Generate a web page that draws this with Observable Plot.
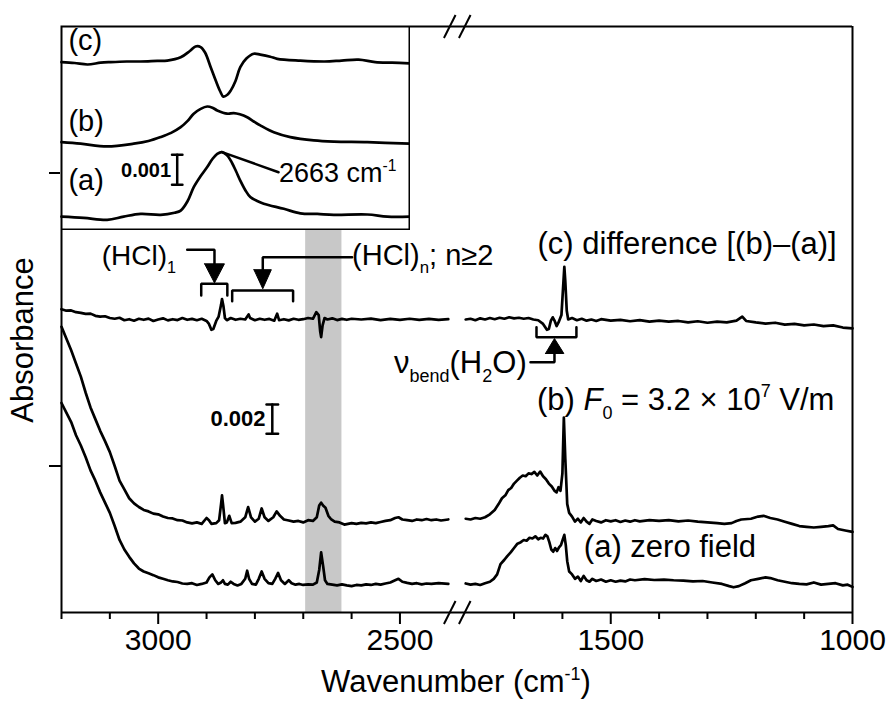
<!DOCTYPE html>
<html>
<head>
<meta charset="utf-8">
<script src="https://cdn.jsdelivr.net/npm/d3@7"></script>
<script src="https://cdn.jsdelivr.net/npm/@observablehq/plot@0.6"></script>
<style>
  body { margin: 0; background: #fff; }
  #wrap { position: relative; width: 889px; height: 705px; }
  #inset { position: absolute; left: 60px; top: 25px; }
</style>
</head>
<body>
<div id="wrap"><div id="main"></div><div id="inset"></div></div>
<script>
// ---------------- DATA (wavenumber cm^-1, absorbance in units of 0.001) ----------------
const majorTicks = [3000, 2500, 1500, 1000];
const minorTicks = [3200, 3100, 2900, 2800, 2700, 2600, 1700, 1600, 1400, 1300, 1200, 1100];
const yTicks = [10, 30];
const greyBand = [2695, 2620];

// (c) difference [(b)-(a)]
const diffLeft = [[3200,20.7],[3190,20.6],[3180,20.62],[3170,20.5],[3160,20.45],[3150,20.38],[3140,20.4],[3130,20.25],[3120,20.2],[3110,20.22],[3100,20.1],[3090,20.05],[3080,20.12],[3070,19.95],[3060,20.02],[3050,19.92],[3040,20.05],[3030,19.98],[3020,20.06],[3010,19.9],[3000,20.0],[2990,20.08],[2980,19.94],[2970,20.02],[2960,19.96],[2950,20.1],[2940,19.98],[2930,20.04],[2920,19.95],[2910,20.05],[2900,19.9],[2895,19.7],[2890,19.3],[2886,19.35],[2880,19.9],[2875,20.2],[2870,21.0],[2868,21.4],[2865,20.9],[2862,20.1],[2858,19.95],[2850,20.1],[2840,19.98],[2830,20.05],[2820,20.0],[2813,20.35],[2810,20.1],[2800,19.95],[2790,20.05],[2780,19.98],[2770,20.04],[2760,19.92],[2754,20.4],[2750,19.95],[2740,20.02],[2730,19.94],[2720,20.05],[2710,19.98],[2700,20.02],[2690,20.1],[2680,20.05],[2673,20.5],[2668,20.3],[2665,19.2],[2663,18.8],[2660,19.6],[2656,20.1],[2650,20.0],[2640,20.08],[2630,19.96],[2620,20.04],[2610,19.98],[2600,20.05],[2580,20.0],[2560,20.06],[2540,19.96],[2520,20.04],[2500,19.98],[2480,20.05],[2460,19.97],[2440,20.04],[2420,19.98],[2400,20.02]];
const diffRight = [[1800,20.0],[1790,20.05],[1780,19.95],[1770,20.08],[1760,20.0],[1750,20.1],[1740,20.02],[1730,20.12],[1720,20.05],[1710,20.15],[1700,20.08],[1690,20.12],[1680,20.05],[1670,20.1],[1660,20.0],[1650,19.95],[1640,19.7],[1632,19.3],[1628,19.35],[1624,19.9],[1620,20.15],[1616,19.9],[1612,19.55],[1608,19.8],[1602,20.3],[1598,22.5],[1596,23.6],[1594,22.6],[1591,20.6],[1588,20.0],[1580,20.1],[1570,19.95],[1560,20.05],[1550,19.92],[1540,20.0],[1530,19.9],[1520,20.02],[1500,19.92],[1480,19.98],[1460,19.88],[1440,19.96],[1420,19.85],[1400,19.92],[1380,19.86],[1360,19.9],[1340,19.8],[1320,19.88],[1300,19.78],[1280,19.86],[1260,19.8],[1240,19.92],[1228,20.2],[1220,19.9],[1200,19.8],[1180,19.72],[1160,19.78],[1140,19.65],[1120,19.7],[1100,19.6],[1080,19.66],[1060,19.55],[1040,19.6],[1020,19.45],[1000,19.4]];

// (b) F0 = 3.2e7 V/m
const fieldLeft = [[3200,19.5],[3190,18.7],[3180,17.9],[3170,17.0],[3160,16.1],[3150,15.0],[3140,14.0],[3130,13.2],[3120,12.4],[3110,11.7],[3100,10.95],[3090,10.0],[3080,9.0],[3070,8.4],[3060,7.8],[3050,7.45],[3040,7.2],[3030,7.0],[3020,6.9],[3010,6.75],[3000,6.7],[2990,6.55],[2980,6.45],[2970,6.42],[2960,6.3],[2950,6.28],[2940,6.15],[2930,6.08],[2920,6.15],[2910,6.05],[2900,6.45],[2895,6.3],[2890,6.05],[2880,6.1],[2874,6.3],[2870,7.4],[2868,8.0],[2866,7.4],[2862,6.1],[2858,6.15],[2853,6.6],[2848,6.1],[2840,6.12],[2830,6.2],[2820,6.5],[2814,7.2],[2808,6.5],[2800,6.2],[2792,6.4],[2786,7.1],[2780,6.5],[2772,6.25],[2762,6.5],[2755,6.9],[2748,6.6],[2740,6.35],[2730,6.28],[2720,6.2],[2710,6.25],[2700,6.15],[2690,6.3],[2680,6.25],[2672,6.5],[2667,7.3],[2663,7.5],[2659,7.3],[2654,7.15],[2648,6.6],[2642,6.35],[2635,6.2],[2625,6.15],[2615,6.0],[2600,6.1],[2590,6.05],[2580,6.12],[2570,6.08],[2560,6.15],[2550,6.1],[2540,6.18],[2530,6.25],[2520,6.3],[2510,6.45],[2503,6.5],[2495,6.35],[2485,6.3],[2475,6.25],[2465,6.35],[2455,6.3],[2445,6.38],[2435,6.3],[2425,6.35],[2415,6.28],[2400,6.35]];
const fieldRight = [[1800,6.4],[1790,6.35],[1780,6.45],[1770,6.4],[1760,6.5],[1750,6.7],[1740,7.0],[1732,7.4],[1725,7.8],[1718,8.0],[1712,8.35],[1706,8.5],[1700,8.8],[1694,9.0],[1688,9.2],[1682,9.35],[1676,9.3],[1670,9.5],[1664,9.45],[1658,9.6],[1652,9.35],[1646,9.62],[1640,9.3],[1634,9.1],[1628,8.8],[1622,8.6],[1616,8.3],[1612,8.2],[1608,8.55],[1604,8.3],[1600,9.5],[1597,13.3],[1594,10.5],[1590,7.4],[1586,6.8],[1580,6.55],[1574,6.2],[1568,6.4],[1562,6.15],[1556,6.45],[1550,6.2],[1544,6.05],[1538,6.35],[1530,6.25],[1520,6.15],[1510,6.3],[1500,6.22],[1490,6.3],[1480,6.18],[1470,6.28],[1460,6.2],[1450,6.3],[1440,6.22],[1420,6.3],[1400,6.25],[1380,6.3],[1360,6.22],[1340,6.28],[1320,6.2],[1300,6.15],[1280,6.1],[1265,6.05],[1250,6.1],[1240,6.25],[1230,6.35],[1210,6.4],[1195,6.55],[1184,6.6],[1170,6.45],[1155,6.35],[1140,6.2],[1125,6.05],[1110,5.9],[1095,5.85],[1080,5.8],[1065,5.85],[1050,5.9],[1040,5.95],[1030,5.7],[1015,5.6],[1000,5.5]];

// (a) zero field
const zeroLeft = [[3200,14.3],[3190,13.65],[3180,13.0],[3170,12.1],[3160,11.4],[3150,10.6],[3140,9.7],[3130,9.0],[3120,8.2],[3110,7.5],[3100,6.8],[3090,5.9],[3080,4.95],[3070,4.3],[3060,3.8],[3050,3.35],[3040,3.0],[3030,2.8],[3020,2.68],[3010,2.55],[3000,2.4],[2990,2.3],[2980,2.2],[2970,2.12],[2960,2.08],[2950,1.98],[2940,1.95],[2930,2.0],[2920,1.88],[2910,1.95],[2900,2.05],[2894,2.4],[2888,2.6],[2882,2.2],[2876,1.95],[2870,2.05],[2866,2.2],[2862,1.95],[2856,1.9],[2850,2.1],[2844,1.95],[2836,1.85],[2828,1.95],[2820,2.3],[2816,2.85],[2812,2.3],[2806,1.95],[2798,1.9],[2792,2.3],[2786,2.8],[2780,2.3],[2772,2.0],[2764,1.95],[2758,2.3],[2752,2.7],[2746,2.2],[2738,1.95],[2730,2.2],[2724,2.0],[2716,1.9],[2708,1.95],[2700,1.88],[2690,1.92],[2680,1.9],[2672,2.05],[2667,2.9],[2663,4.1],[2659,3.2],[2655,2.2],[2650,1.95],[2640,1.9],[2630,1.85],[2620,1.92],[2610,1.85],[2600,1.8],[2590,1.88],[2580,1.85],[2570,1.92],[2560,1.88],[2550,1.95],[2540,1.9],[2530,1.98],[2520,2.05],[2510,2.2],[2503,2.3],[2495,2.1],[2485,2.02],[2475,1.95],[2465,2.0],[2455,1.92],[2445,1.98],[2435,1.95],[2420,2.0],[2400,1.95]];
const zeroRight = [[1800,1.98],[1790,1.9],[1780,1.95],[1770,1.88],[1760,2.0],[1750,2.1],[1742,2.3],[1735,2.6],[1728,3.3],[1720,3.6],[1714,3.85],[1707,4.1],[1700,4.4],[1693,4.7],[1686,4.8],[1680,4.95],[1674,4.9],[1668,5.1],[1662,5.05],[1656,5.2],[1650,5.0],[1645,5.1],[1640,5.05],[1635,5.3],[1631,5.2],[1627,4.8],[1623,4.3],[1619,4.15],[1615,4.4],[1611,4.2],[1607,4.45],[1603,4.6],[1599,5.0],[1596,5.3],[1593,4.6],[1590,3.5],[1586,2.8],[1580,2.6],[1574,2.3],[1568,2.45],[1562,2.15],[1556,2.5],[1550,2.2],[1544,2.1],[1538,2.3],[1530,2.15],[1520,2.25],[1510,2.1],[1500,2.2],[1490,2.1],[1480,2.18],[1470,2.12],[1460,2.25],[1450,2.2],[1430,2.28],[1410,2.22],[1390,2.25],[1370,2.2],[1350,2.18],[1330,2.12],[1310,2.15],[1290,2.05],[1270,1.95],[1255,1.8],[1246,1.72],[1235,1.8],[1222,2.0],[1210,2.2],[1195,2.3],[1180,2.4],[1170,2.35],[1155,2.2],[1140,2.1],[1125,2.0],[1110,1.95],[1095,1.92],[1080,2.05],[1065,1.9],[1050,1.95],[1035,2.0],[1020,1.85],[1010,1.9],[1000,1.75]];

// inset (2700-2620 cm^-1)
const insetDiff = [[2700,5.58],[2697,5.55],[2694,5.5],[2691,5.56],[2688.7,5.58],[2685,5.6],[2681.8,5.6],[2678,5.62],[2675.7,5.63],[2672.6,5.74],[2670.5,5.95],[2669.2,6.1],[2668,6.08],[2667,5.9],[2665.7,5.41],[2664.5,4.95],[2663.5,4.6],[2662.8,4.43],[2661.8,4.5],[2661.1,4.63],[2660,4.95],[2658.9,5.41],[2657.5,5.7],[2655.8,5.86],[2654.3,5.83],[2652,5.76],[2650.4,5.69],[2645.1,5.63],[2639.5,5.6],[2635.6,5.63],[2631.7,5.66],[2627.9,5.58],[2624,5.56],[2620,5.54]];
const insetField = [[2700,2.91],[2695.6,2.86],[2689.5,2.77],[2683.4,2.86],[2680,2.95],[2677.2,3.08],[2674.8,3.22],[2672.6,3.41],[2671,3.62],[2669.6,3.86],[2668,4.02],[2666.5,4.1],[2665.3,4.06],[2664.2,3.97],[2661.9,3.86],[2660.4,3.88],[2659,3.84],[2657.3,3.74],[2655.8,3.6],[2654.3,3.47],[2651.2,3.24],[2647.4,3.08],[2642,2.97],[2637.4,2.93],[2629.7,2.91],[2620,2.86]];
const insetZero = [[2700,0.43],[2694.9,0.39],[2689.5,0.32],[2685.7,0.43],[2681.8,0.52],[2677.2,0.49],[2674,0.56],[2672.6,0.63],[2671,0.95],[2669.6,1.41],[2668,1.78],[2666.5,2.08],[2665.3,2.35],[2664.2,2.52],[2663.1,2.58],[2662,2.48],[2661.1,2.3],[2659.9,1.95],[2658.9,1.63],[2657.7,1.3],[2656.6,1.08],[2655,0.95],[2653.5,0.86],[2648.9,0.69],[2645.1,0.54],[2641.2,0.52],[2637.4,0.49],[2629.7,0.5],[2625.1,0.43],[2620,0.43]];

// ---------------- broken-axis transform ----------------
const FONT = '"Liberation Sans", Arial, Helvetica, sans-serif';
const LEFT_SEG = [3200, 2400], RIGHT_SEG = [1800, 1000], GAP_U = 36;
const toU = w => w > 2100 ? LEFT_SEG[0] - w : (LEFT_SEG[0] - LEFT_SEG[1]) + GAP_U + (RIGHT_SEG[0] - w);
const fromU = u => u <= (LEFT_SEG[0] - LEFT_SEG[1]) ? LEFT_SEG[0] - u : RIGHT_SEG[0] - (u - (LEFT_SEG[0] - LEFT_SEG[1]) - GAP_U);
const U_MAX = toU(RIGHT_SEG[1]);
const Y_MAX = 40;

const rows = [];
[["c-L", diffLeft], ["c-R", diffRight], ["b-L", fieldLeft], ["b-R", fieldRight], ["a-L", zeroLeft], ["a-R", zeroRight]]
  .forEach(([z, arr]) => arr.forEach(([w, m]) => rows.push({u: toU(w), m, z})));

const LW = 2.7;
const path = (pts) => Plot.line(pts, {x: p => toU(p[0]), y: p => p[1], stroke: "black", strokeWidth: 2.5, strokeLinejoin: "miter"});
const tri = (pts) => Plot.line([...pts, pts[0]], {x: p => toU(p[0]), y: p => p[1], fill: "black", stroke: "black", strokeWidth: 1});

const breakU = [toU(LEFT_SEG[1]) + 3, toU(RIGHT_SEG[0]) - 2];
const slashes = [];
for (const u of breakU) for (const y of [0, Y_MAX]) slashes.push({x1: u - 12, y1: y - 0.78, x2: u + 12, y2: y + 0.78});

const plot = Plot.plot({
  width: 889, height: 705,
  marginLeft: 61, marginRight: 37, marginTop: 26, marginBottom: 93,
  x: {domain: [0, U_MAX], axis: null},
  y: {domain: [0, Y_MAX], axis: null},
  style: {fontFamily: FONT, fontSize: "30px", color: "black", background: "white"},
  marks: [
    Plot.rect([greyBand], {x1: d => toU(d[0]), x2: d => toU(d[1]), fill: "#c8c8c8"}),
    Plot.line(rows, {x: "u", y: "m", z: "z", stroke: "black", strokeWidth: LW, strokeLinejoin: "round"}),
    Plot.ruleX([0, U_MAX], {stroke: "black", strokeWidth: 2}),
    Plot.ruleY([0, Y_MAX], {stroke: "black", strokeWidth: 2}),
    Plot.link(slashes, {x1: "x1", y1: "y1", x2: "x2", y2: "y2", stroke: "black", strokeWidth: 2}),
    Plot.axisX({ticks: majorTicks.map(toU), tickFormat: u => String(Math.round(fromU(u))), tickSize: 12, tickPadding: 4, strokeWidth: 2, fontSize: 30, label: null}),
    Plot.axisX({ticks: minorTicks.map(toU), tickFormat: () => "", tickSize: 7, strokeWidth: 2, label: null}),
    Plot.axisY({ticks: yTicks, tickFormat: () => "", tickSize: 12, strokeWidth: 2, label: null}),
    // annotations: (HCl)1 arrow and bracket
    path([[2940, 24.76], [2883.6, 24.76], [2883.6, 23.7]]),
    tri([[2904, 23.8], [2863, 23.8], [2883.6, 22.5]]),
    path([[2911, 21.64], [2911, 22.44], [2857, 22.44], [2857, 21.64]]),
    // (HCl)n arrow and bracket
    path([[2599, 24.25], [2783.7, 24.25], [2783.7, 23.3]]),
    tri([[2802, 23.4], [2766, 23.4], [2783.7, 22.1]]),
    path([[2847, 21.25], [2847, 21.98], [2721, 21.98], [2721, 21.25]]),
    // H2O bend arrow and bracket
    path([[1666, 17.09], [1616.4, 17.09], [1616.4, 17.7]]),
    tri([[1635, 17.68], [1597, 17.68], [1616.4, 18.7]]),
    path([[1653.6, 19.47], [1653.6, 18.79], [1571, 18.79], [1571, 19.47]]),
    // scale bar 0.002
    path([[2764, 12.2], [2764, 14.2]]),
    path([[2776, 12.2], [2752, 12.2]]),
    path([[2776, 14.2], [2752, 14.2]]),
    Plot.text(["0.002"], {x: () => toU(2778), y: () => 12.7, text: d => d, textAnchor: "end", lineAnchor: "bottom", fontSize: 22, fontWeight: "bold"}),
    Plot.text(["(c) difference [(b)–(a)]"], {x: () => toU(1651.5), y: () => 24.5, text: d => d, textAnchor: "start", lineAnchor: "bottom", fontSize: 31}),
    Plot.text(["(a) zero field"], {x: () => toU(1555.7), y: () => 3.77, text: d => d, textAnchor: "start", lineAnchor: "bottom", fontSize: 31})
  ]
});
document.getElementById("main").appendChild(plot);

// rich text (sub/superscripts) placed through the plot's scales
const sx = plot.scale("x"), sy = plot.scale("y");
function rich(svg, x, y, parts, {size = 30, anchor = "start", weight = "normal", transform = null} = {}) {
  const t = svg.append("text").attr("x", x).attr("y", y).attr("font-size", size)
    .attr("text-anchor", anchor).attr("font-family", FONT).attr("font-weight", weight).attr("fill", "black");
  if (transform) t.attr("transform", transform);
  let shift = 0;
  for (const [s, k] of parts) {
    const ts = t.append("tspan").text(s);
    const target = k === "sub" ? 0.28 * size : k === "sup" ? -0.4 * size : 0;
    if (target !== shift) { ts.attr("dy", target - shift); shift = target; }
    if (k === "sub" || k === "sup") ts.attr("font-size", size * 0.58);
    if (k === "it") ts.attr("font-style", "italic");
  }
  return t;
}
const svg = d3.select(plot);
rich(svg, sx.apply(toU(3115.8)), sy.apply(23.7), [["(HCl)", ""], ["1", "sub"]], {size: 28});
rich(svg, sx.apply(toU(2598)), sy.apply(23.7), [["(HCl)", ""], ["n", "sub"], ["; n≥2", ""]], {size: 29});
rich(svg, sx.apply(toU(1672.8)), sy.apply(16.3), [["ν", ""], ["bend", "sub"], ["(H", ""], ["2", "sub"], ["O)", ""]], {size: 31, anchor: "end"});
rich(svg, sx.apply(toU(1651.5)), sy.apply(13.8), [["(b) ", ""], ["F", "it"], ["0", "sub"], [" = 3.2 × 10", ""], ["7", "sup"], [" V/m", ""]], {size: 31});
rich(svg, 456, 692, [["Wavenumber (cm", ""], ["-1", "sup"], [")", ""]], {size: 31, anchor: "middle"});
rich(svg, 0, 0, [["Absorbance", ""]], {size: 31, anchor: "middle", transform: "translate(33,340) rotate(-90)"});

// ---------------- inset ----------------
const IW = [2700, 2620], IY = 203 / 30;
const insetRows = [];
[["c", insetDiff], ["b", insetField], ["a", insetZero]].forEach(([z, arr]) => arr.forEach(([w, m]) => insetRows.push({w, m, z})));
const ipath = (pts) => Plot.line(pts, {x: p => p[0], y: p => p[1], stroke: "black", strokeWidth: 2.5});
const inset = Plot.plot({
  width: 350, height: 205, margin: 1,
  x: {domain: IW, axis: null},
  y: {domain: [0, IY], axis: null},
  style: {fontFamily: FONT, fontSize: "29px", color: "black", background: "white"},
  marks: [
    Plot.frame({fill: "white"}),
    Plot.line(insetRows, {x: "w", y: "m", z: "z", stroke: "black", strokeWidth: LW, curve: "catmull-rom"}),
    Plot.text(["(c)", "(b)", "(a)"], {x: () => 2698.4, y: (d, i) => [6.0, 3.3, 1.33][i], text: d => d, textAnchor: "start", lineAnchor: "bottom", fontSize: 29}),
    ipath([[2663.1, 2.58], [2650.1, 1.91]]),
    ipath([[2673.4, 1.49], [2673.4, 2.49]]),
    ipath([[2674.6, 1.49], [2672.2, 1.49]]),
    ipath([[2674.6, 2.49], [2672.2, 2.49]]),
    Plot.text(["0.001"], {x: () => 2674.8, y: () => 1.74, text: d => d, textAnchor: "end", lineAnchor: "bottom", fontSize: 20, fontWeight: "bold"}),
    Plot.frame({stroke: "black", strokeWidth: 2})
  ]
});
document.getElementById("inset").appendChild(inset);
const isx = inset.scale("x"), isy = inset.scale("y");
rich(d3.select(inset), isx.apply(2649.9), isy.apply(1.58), [["2663 cm", ""], ["-1", "sup"]], {size: 27});
</script>
</body>
</html>
